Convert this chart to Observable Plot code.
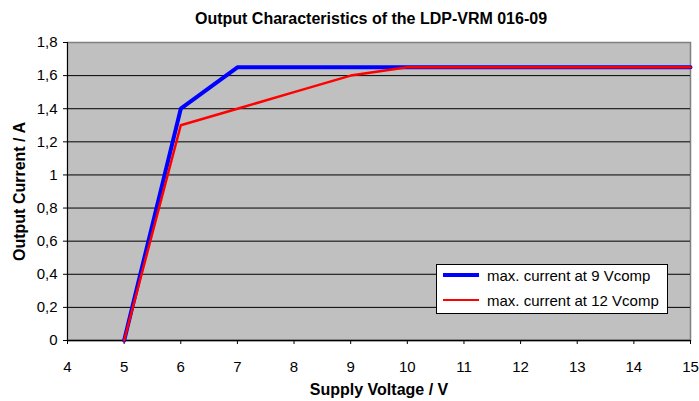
<!DOCTYPE html>
<html><head><meta charset="utf-8">
<script src="https://cdn.jsdelivr.net/npm/d3@7"></script>
<script src="https://cdn.jsdelivr.net/npm/@observablehq/plot@0.6"></script>
<style>
body{margin:0;background:#fff;font-family:Arial,"Liberation Sans",sans-serif}
#wrap{position:relative;width:699px;height:401px}
#legend{position:absolute;left:436px;top:264px;width:230px;height:48px;border:1px solid #000;background:#fff;font-size:15px;color:#000}
.row{position:absolute;left:6px;height:20px;display:flex;align-items:center;white-space:nowrap}
.sw{width:36px;margin-right:8px}
</style>
</head><body><div id="wrap"></div>
<script>
const title = "Output Characteristics of the LDP-VRM 016-09";
const xLabel = "Supply Voltage / V";
const yLabel = "Output Current / A";
const voltage = [5, 6, 7, 8, 9, 10, 11, 12, 13, 14, 15];
const current9 = [0, 1.4, 1.65, 1.65, 1.65, 1.65, 1.65, 1.65, 1.65, 1.65, 1.65];
const current12 = [0, 1.3, 1.4, 1.5, 1.6, 1.65, 1.65, 1.65, 1.65, 1.65, 1.65];
const seriesNames = ["max. current at 9 Vcomp", "max. current at 12 Vcomp"];
const seriesColors = ["#0000FF", "#FF0000"];
const xTicks = [4, 5, 6, 7, 8, 9, 10, 11, 12, 13, 14, 15];
const yTicks = [0, 0.2, 0.4, 0.6, 0.8, 1, 1.2, 1.4, 1.6, 1.8];

const d9 = voltage.map((v, i) => ({v, c: current9[i]}));
const d12 = voltage.map((v, i) => ({v, c: current12[i]}));
const fmt = d => String(+d.toFixed(1)).replace(".", ",");

const chart = Plot.plot({
  width: 699, height: 401,
  marginLeft: 67, marginRight: 9, marginTop: 42, marginBottom: 61,
  style: {fontFamily: "Arial, 'Liberation Sans', sans-serif", background: "#fff"},
  x: {domain: [4, 15]},
  y: {domain: [0, 1.8]},
  marks: [
    Plot.frame({fill: "#C0C0C0", stroke: "#808080", strokeWidth: 1.5}),
    Plot.gridY(yTicks.slice(1, -1), {stroke: "#000", strokeOpacity: 1, strokeWidth: 1}),
    Plot.ruleX([4], {stroke: "#000", strokeWidth: 1}),
    Plot.ruleY([0], {stroke: "#000", strokeWidth: 1.5}),
    Plot.axisX({ticks: xTicks, tickSize: 4, tickPadding: 17, fontSize: 15, label: null, tickFormat: d => String(d), stroke: "#000"}),
    Plot.axisY({ticks: yTicks, tickSize: 4, tickPadding: 6, fontSize: 15, label: null, tickFormat: fmt, stroke: "#000"}),
    Plot.line(d9, {x: "v", y: "c", stroke: seriesColors[0], strokeWidth: 4, strokeLinejoin: "miter"}),
    Plot.line(d12, {x: "v", y: "c", stroke: seriesColors[1], strokeWidth: 2.5}),
    Plot.text([title], {frameAnchor: "top", dy: -24, dx: -8, lineAnchor: "middle", textAnchor: "middle", fontSize: 16, fontWeight: "bold", fill: "#000"}),
    Plot.text([xLabel], {frameAnchor: "bottom", dy: 49, lineAnchor: "middle", textAnchor: "middle", fontSize: 16, fontWeight: "bold", fill: "#000"}),
    Plot.text([yLabel], {frameAnchor: "left", dx: -48, rotate: -90, lineAnchor: "middle", textAnchor: "middle", fontSize: 16, fontWeight: "bold", fill: "#000"})
  ]
});
const wrap = document.getElementById("wrap");
wrap.appendChild(chart);
const lg = document.createElement("div");
lg.id = "legend";
seriesNames.forEach((n, i) => {
  const r = document.createElement("div");
  r.className = "row";
  r.style.top = (i === 0 ? 0 : 25) + "px";
  r.innerHTML = `<div class="sw" style="height:${i === 0 ? 4 : 2.5}px;background:${seriesColors[i]}"></div><span>${n}</span>`;
  lg.appendChild(r);
});
wrap.appendChild(lg);
</script>
</body></html>
